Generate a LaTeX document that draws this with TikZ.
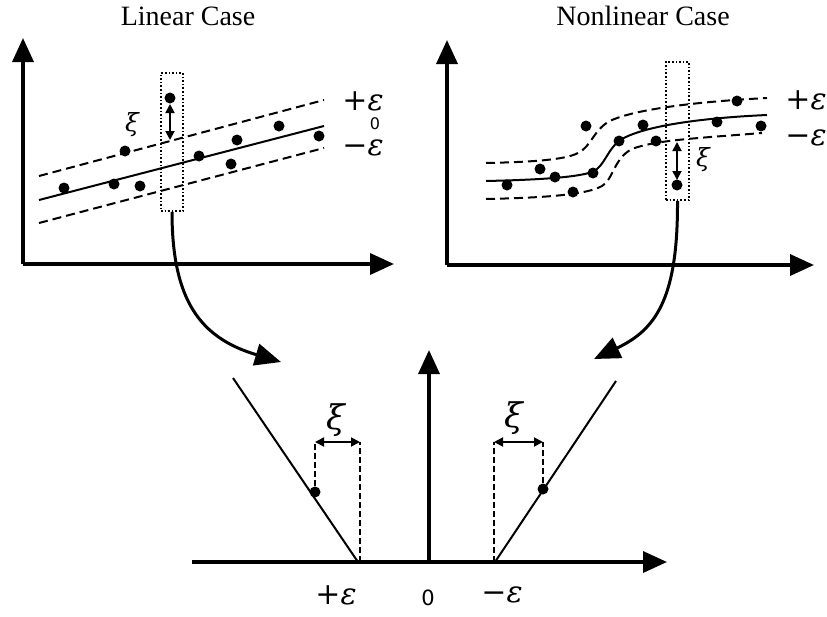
\documentclass[tikz,border=0pt]{standalone}
\usepackage{fontspec}
\setmainfont{Liberation Serif}
\newfontfamily\digitfont{DejaVu Sans}
\newfontfamily\symfont{DejaVu Serif}
\usetikzlibrary{arrows.meta}
\newcommand{\eps}{{\symfont\itshape ε}}
\newcommand{\xii}{{\symfont\itshape ξ}}
\newcommand{\pls}{{\symfont +}}
\newcommand{\mns}{{\symfont −}}
\begin{document}
\begin{tikzpicture}[x=1pt,y=-1pt,
  axis/.style={line width=3.5pt,-{Triangle[length=24pt,width=21pt]}},
  fitline/.style={line width=2pt},
  band/.style={line width=2pt,dash pattern=on 9pt off 5pt},
  pt/.style={circle,fill=black,inner sep=0pt,minimum size=11pt},
  tube/.style={draw,dotted,line width=1.6pt,inner sep=0pt},
  dbl/.style={line width=1.8pt,{Triangle[length=9pt,width=9pt]}-{Triangle[length=9pt,width=9pt]}},
  curvearrow/.style={line width=3pt,-{Triangle[length=26pt,width=22pt]}},
  vdash/.style={line width=1.4pt,dash pattern=on 6pt off 3pt},
  lbl/.style={inner sep=0pt,font=\fontsize{30}{34}\selectfont},
  title/.style={inner sep=0pt,font=\fontsize{28}{32}\selectfont}]
\useasboundingbox (0,0) rectangle (827,616);

% ---------- Titles ----------
\node[title] (tl) at (188,16) {Linear Case};
\node[title] (tr) at (643,16) {Nonlinear Case};

% ---------- Left panel ----------
\coordinate (lo) at (23,264);
\coordinate (lyt) at (23,38);
\coordinate (lxt) at (394,264);
\draw[axis] (lo) -- (lyt);
\draw[axis] (lo) -- (lxt);

\draw[fitline] (39,200) -- (324,126);
\draw[band] (39,176) -- (324,100);
\draw[band] (39,223) -- (324,148);

\node[tube,minimum width=22pt,minimum height=138pt] (boxL) at (172,142) {};

\foreach \p/\q [count=\i] in {64/188,114/184,140/186,125/151,170/98,199/156,231/164,237/140,279/126,319/136}
  \node[pt] (dl\i) at (\p,\q) {};

\coordinate (al1) at (170,104);
\coordinate (al2) at (170,140);
\draw[dbl] (al1) -- (al2);
\node[inner sep=0pt,font=\fontsize{25}{28}\selectfont] (xil) at (132,125) {\xii};

\node[lbl] (pel) at (363,101) {\pls\eps};
\node[inner sep=0pt,font=\fontsize{16}{18}\digitfont] (zl) at (375,124) {0};
\node[lbl] (mel) at (363,148) {\mns\eps};

% ---------- Right panel ----------
\coordinate (ro) at (447,265);
\coordinate (ryt) at (447,40);
\coordinate (rxt) at (814,265);
\draw[axis] (ro) -- (ryt);
\draw[axis] (ro) -- (rxt);

\draw[fitline] (486,181) .. controls (530,180) and (575,178) .. (592,172)
  .. controls (605,167) and (607,148) .. (622,139)
  .. controls (645,126) and (700,118) .. (767,115);
\draw[band] (486,163) .. controls (530,162) and (565,160) .. (578,153)
  .. controls (592,146) and (594,128) .. (612,120)
  .. controls (635,110) and (690,102) .. (767,98);
\draw[band] (486,199) .. controls (530,198) and (585,196) .. (602,186)
  .. controls (613,180) and (614,158) .. (632,149)
  .. controls (655,140) and (700,138) .. (762,133);

\node[tube,minimum width=23pt,minimum height=138pt] (boxR) at (677.5,131) {};

\foreach \p/\q [count=\i] in {507/185,540/169,555/177,573/192,593/173,586/126,619/141,643/125,656/141,677/185,717/122,737/101,761/126}
  \node[pt] (dr\i) at (\p,\q) {};

\coordinate (ar1) at (677,142);
\coordinate (ar2) at (677,180);
\draw[dbl] (ar1) -- (ar2);
\node[inner sep=0pt,font=\fontsize{25}{28}\selectfont] (xir) at (703,160) {\xii};

\node[lbl] (per) at (806,100) {\pls\eps};
\node[lbl] (mer) at (806,138) {\mns\eps};

% ---------- Curved arrows ----------
\coordinate (tipL) at (281,362);
\coordinate (tipR) at (594,359);
\draw[curvearrow] (boxL.south) .. controls (172,300) and (200,338) .. (tipL);
\draw[curvearrow] (boxR.south) .. controls (678,300) and (655,330) .. (tipR);

% ---------- Bottom panel ----------
\coordinate (bxs) at (192,562);
\coordinate (bxt) at (667,562);
\coordinate (byb) at (429,562);
\coordinate (byt) at (429,350);
\draw[axis] (bxs) -- (bxt);
\draw[axis] (byb) -- (byt);

\coordinate (vl) at (358,562);
\coordinate (vlt) at (233,378);
\coordinate (vr) at (495,562);
\coordinate (vrt) at (616,381);
\draw[fitline] (vl) -- (vlt);
\draw[fitline] (vr) -- (vrt);

\node[pt] (bdl) at (315,492) {};
\node[pt] (bdr) at (543,489) {};

\coordinate (la) at (315,442);
\coordinate (lb) at (360,442);
\coordinate (lbb) at (360,562);
\draw[vdash] (bdl) -- (la);
\draw[vdash] (lbb) -- (lb);
\draw[dbl] (la) -- (lb);
\node[inner sep=0pt,font=\fontsize{34}{38}\selectfont] (xbl) at (336,420) {\xii};

\coordinate (ra) at (494,442);
\coordinate (rb) at (543,442);
\coordinate (raa) at (494,562);
\draw[vdash] (raa) -- (ra);
\draw[vdash] (bdr) -- (rb);
\draw[dbl] (ra) -- (rb);
\node[inner sep=0pt,font=\fontsize{34}{38}\selectfont] (xbr) at (514,418) {\xii};

\node[lbl] (pep) at (336,595) {\pls\eps};
\node[inner sep=0pt,font=\fontsize{21}{24}\digitfont] (zb) at (428,598) {0};
\node[lbl] (mep) at (502,595) {\mns\eps};
\end{tikzpicture}
\end{document}
